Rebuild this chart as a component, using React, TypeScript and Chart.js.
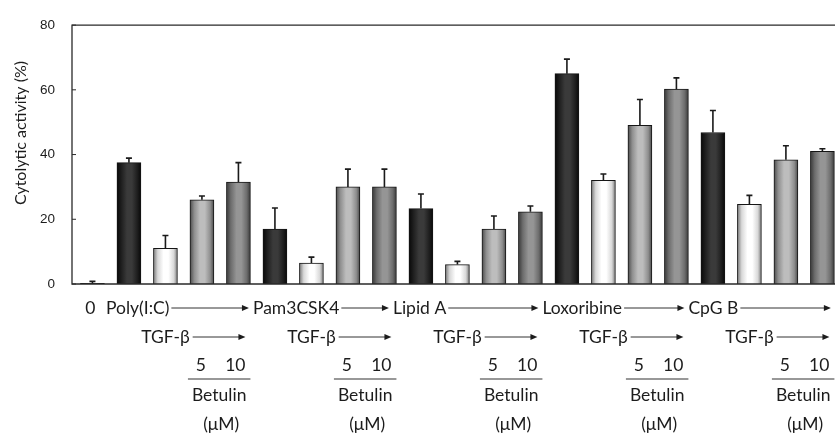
import { useEffect, useRef } from "react";
import { Chart, registerables } from "chart.js";

Chart.register(...registerables);

// Stimuli (each followed by TGF-β and TGF-β + betulin 5 / 10 μM)
const controlLabel = "0";
const stimuli = ["Poly(I:C)", "Pam3CSK4", "Lipid A", "Loxoribine", "CpG B"];
const cotreatment = "TGF-β";
const betulinDoses = ["5", "10"];
const betulinLabel = "Betulin";
const doseUnit = "(μM)";

// Cytolytic activity (%) per bar: control, then 4 bars per stimulus
const cytolytic = [
  0.2,
  37.5, 11, 26, 31.5,
  17, 6.5, 30, 30,
  23.3, 6, 17, 22.3,
  65, 32, 49, 60.2,
  46.8, 24.6, 38.4, 41,
];
// Upper error (SD) per bar
const errors = [
  0.6,
  1.4, 4, 1.2, 6,
  6.5, 1.8, 5.5, 5.5,
  4.5, 1, 4, 1.8,
  4.5, 2, 8, 3.5,
  6.8, 2.8, 4.3, 0.8,
];
const yTicks = [0, 20, 40, 60, 80];
const yTitle = "Cytolytic activity (%)";

// bar kinds in each group: stimulus alone, +TGF-β, +betulin 5, +betulin 10
const kinds = ["dark", "white", "light", "medium"] as const;
const shades: Record<string, [string, string, string]> = {
  dark: ["#080808", "#1e1e1e", "#3a3a3a"],
  white: ["#7a7a7a", "#d8d8d8", "#ffffff"],
  light: ["#4a4a4a", "#8e8e8e", "#bdbdbd"],
  medium: ["#383838", "#6c6c6c", "#959595"],
};
const kindOf = (i: number) => (i === 0 ? "dark" : kinds[(i - 1) % 4]);

const INK = "#1c1c1c";
const LABEL_FONT = '17.5px Lato, "Noto Sans", sans-serif';
const ROWS = { stim: 308, tgf: 337, dose: 365, rule: 379, betulin: 395, unit: 424 };
// horizontal nudge of each stimulus name relative to its first bar
const stimOffset = [-23, -22, -28, -24.5, -24.5];

function drawArrow(ctx: CanvasRenderingContext2D, x0: number, x1: number, y: number) {
  ctx.beginPath();
  ctx.lineWidth = 1;
  ctx.moveTo(x0, y);
  ctx.lineTo(x1 - 5, y);
  ctx.stroke();
  ctx.beginPath();
  ctx.moveTo(x1, y);
  ctx.lineTo(x1 - 7, y - 3);
  ctx.lineTo(x1 - 7, y + 3);
  ctx.closePath();
  ctx.fill();
}

const framePlugin = {
  id: "frame",
  afterDatasetsDraw(chart: any) {
    const { ctx, chartArea: a, scales } = chart;
    const ys = scales.y;
    ctx.save();
    ctx.strokeStyle = "#2a2a2a";
    ctx.lineWidth = 1.3;
    ctx.beginPath();
    ctx.moveTo(a.right + 10, a.top);
    ctx.lineTo(a.left, a.top);
    ctx.lineTo(a.left, a.bottom);
    ctx.lineTo(a.right + 10, a.bottom);
    ctx.stroke();
    ctx.lineWidth = 1;
    for (const v of yTicks) {
      const y = ys.getPixelForValue(v);
      ctx.beginPath();
      ctx.moveTo(a.left, y);
      ctx.lineTo(a.left + 4, y);
      ctx.stroke();
    }
    ctx.restore();
  },
};

const errorBarPlugin = {
  id: "errorBars",
  afterDatasetsDraw(chart: any) {
    const { ctx, scales } = chart;
    const meta = chart.getDatasetMeta(0);
    ctx.save();
    ctx.strokeStyle = "#1a1a1a";
    ctx.lineWidth = 1.6;
    meta.data.forEach((bar: any, i: number) => {
      const top = scales.y.getPixelForValue(cytolytic[i] + errors[i]);
      ctx.beginPath();
      ctx.moveTo(bar.x, bar.y);
      ctx.lineTo(bar.x, top);
      ctx.moveTo(bar.x - 3, top);
      ctx.lineTo(bar.x + 3, top);
      ctx.stroke();
    });
    ctx.restore();
  },
};

const labelPlugin = {
  id: "treatmentLabels",
  afterDraw(chart: any) {
    const { ctx, scales } = chart;
    const px = (i: number) => scales.x.getPixelForValue(i);
    ctx.save();
    ctx.fillStyle = INK;
    ctx.strokeStyle = "#333333";
    ctx.textBaseline = "middle";
    ctx.font = LABEL_FONT;

    ctx.textAlign = "center";
    ctx.fillText(controlLabel, px(0) - 2, ROWS.stim);

    stimuli.forEach((name, g) => {
      const base = 1 + g * 4;
      const start = px(base) + stimOffset[g];
      const nextStart =
        g + 1 < stimuli.length ? px(base + 4) + stimOffset[g + 1] : px(base + 4) - 24;
      ctx.textAlign = "left";
      ctx.fillText(name, start, ROWS.stim);
      const end = start + ctx.measureText(name).width;
      drawArrow(ctx, end + 2, nextStart - 4, ROWS.stim);

      ctx.textAlign = "center";
      ctx.fillText(cotreatment, px(base + 1), ROWS.tgf);
      const tw = ctx.measureText(cotreatment).width;
      drawArrow(ctx, px(base + 1) + tw / 2 + 3, px(base + 3) + 7, ROWS.tgf);

      ctx.fillText(betulinDoses[0], px(base + 2) - 1, ROWS.dose);
      ctx.textAlign = "right";
      ctx.fillText(betulinDoses[1], px(base + 3) + 7, ROWS.dose);

      const u0 = px(base + 2) - 14;
      const u1 = px(base + 3) + 12;
      ctx.beginPath();
      ctx.lineWidth = 1.2;
      ctx.moveTo(u0, ROWS.rule);
      ctx.lineTo(u1, ROWS.rule);
      ctx.stroke();

      ctx.textAlign = "center";
      ctx.fillText(betulinLabel, (u0 + u1) / 2, ROWS.betulin);
      ctx.fillText(doseUnit, (u0 + u1) / 2 + 2, ROWS.unit);
    });

    // rotated y-axis title
    ctx.translate(21, 133);
    ctx.rotate(-Math.PI / 2);
    ctx.font = '16px Lato, "Noto Sans", sans-serif';
    ctx.textAlign = "center";
    ctx.fillText(yTitle, 0, 0);
    ctx.restore();
  },
};

export default function App() {
  const canvasRef = useRef<HTMLCanvasElement | null>(null);

  useEffect(() => {
    const canvas = canvasRef.current;
    if (!canvas) return;
    const chart = new Chart(canvas, {
      type: "bar",
      data: {
        datasets: [
          {
            data: cytolytic.map((v, i) => ({ x: i, y: v })),
            barThickness: 24,
            borderColor: "#151515",
            borderWidth: 1,
            borderSkipped: "bottom",
            backgroundColor: (c: any) => {
              const kind = kindOf(c.dataIndex ?? 0);
              const [edge, mid, core] = shades[kind];
              const xs = c.chart.scales?.x;
              if (!xs || c.type !== "data") return core;
              const cx = xs.getPixelForValue(c.dataIndex);
              if (!Number.isFinite(cx)) return core;
              const g = c.chart.ctx.createLinearGradient(cx - 12, 0, cx + 12, 0);
              g.addColorStop(0, edge);
              g.addColorStop(0.18, mid);
              g.addColorStop(0.42, core);
              g.addColorStop(0.62, core);
              g.addColorStop(0.85, mid);
              g.addColorStop(1, edge);
              return g;
            },
          },
        ],
      },
      options: {
        animation: false,
        responsive: false,
        devicePixelRatio: 1,
        layout: { padding: { left: 0, top: 14, right: 0, bottom: 152 } },
        plugins: { legend: { display: false }, tooltip: { enabled: false } },
        scales: {
          x: {
            type: "linear",
            min: -0.56,
            max: 21.03,
            offset: false,
            display: false,
          },
          y: {
            min: 0,
            max: 80,
            afterBuildTicks: (s: any) => {
              s.ticks = yTicks.map((v) => ({ value: v }));
            },
            afterFit: (s: any) => {
              s.width = 72;
            },
            ticks: {
              padding: 17,
              color: INK,
              font: { family: '"Liberation Sans", Arial, sans-serif', size: 13.5 },
            },
            grid: { display: false, drawTicks: false },
            border: { display: false },
          },
        },
      },
      plugins: [framePlugin, errorBarPlugin, labelPlugin],
    } as any);
    return () => chart.destroy();
  }, []);

  return (
    <div
      style={{
        position: "fixed",
        left: 0,
        top: 0,
        width: 835,
        height: 436,
        overflow: "hidden",
        background: "#ffffff",
      }}
    >
      <canvas ref={canvasRef} width={860} height={436} style={{ display: "block" }} />
    </div>
  );
}
